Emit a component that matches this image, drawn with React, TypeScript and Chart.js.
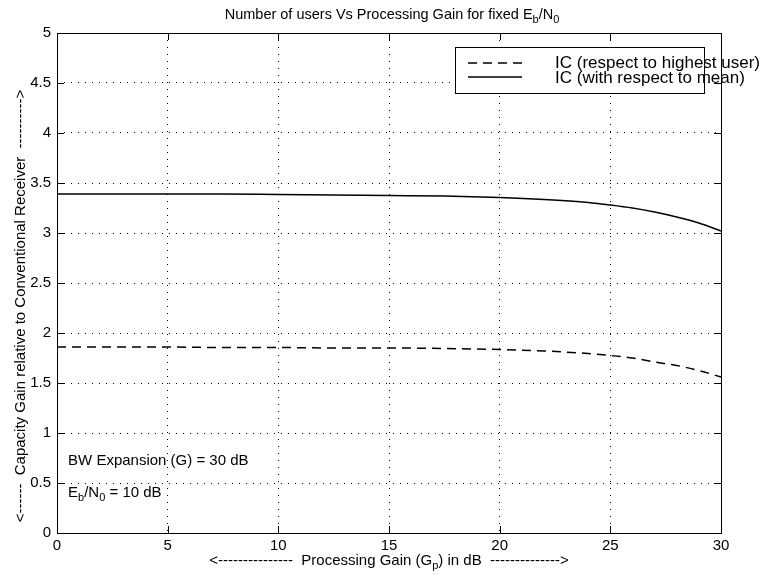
import React, { useEffect, useRef } from "react";
import { Chart, registerables } from "chart.js";
Chart.register(...registerables);

const gainDb = [0, 2.5, 5, 7.5, 10, 12.5, 15, 17.5, 20, 22, 24, 25, 26, 27, 28, 29, 30];
const icMean = [3.39, 3.39, 3.39, 3.39, 3.385, 3.38, 3.375, 3.37, 3.355, 3.335, 3.305, 3.28, 3.25, 3.21, 3.16, 3.1, 3.02];
const icHighest = [1.86, 1.86, 1.86, 1.855, 1.855, 1.85, 1.85, 1.845, 1.835, 1.82, 1.795, 1.775, 1.75, 1.71, 1.675, 1.625, 1.56];
const xTickValues = [0, 5, 10, 15, 20, 25, 30];
const yTickValues = [0, 0.5, 1, 1.5, 2, 2.5, 3, 3.5, 4, 4.5, 5];
const legendLabels = ["IC (respect to highest user)", "IC (with respect to mean)"];

type Seg = { t: string; sub?: boolean };
const titleSegs: Seg[] = [
  { t: "Number of users Vs Processing Gain for fixed E" },
  { t: "b", sub: true },
  { t: "/N" },
  { t: "0", sub: true },
];
const xTitleSegs: Seg[] = [
  { t: "<---------------  Processing Gain (G" },
  { t: "p", sub: true },
  { t: ") in dB  -------------->" },
];
const yTitleSegs: Seg[] = [{ t: "<------  Capacity Gain relative to Conventional Receiver  ---------->" }];
const note1Segs: Seg[] = [{ t: "BW Expansion (G) = 30 dB" }];
const note2Segs: Seg[] = [
  { t: "E" },
  { t: "b", sub: true },
  { t: "/N" },
  { t: "0", sub: true },
  { t: " = 10 dB" },
];

const FONT = "Arial, 'Liberation Sans', Helvetica, sans-serif";

function segWidth(ctx: CanvasRenderingContext2D, segs: Seg[], size: number) {
  let w = 0;
  for (const s of segs) {
    ctx.font = `${s.sub ? Math.round(size * 0.75) : size}px ${FONT}`;
    w += ctx.measureText(s.t).width;
  }
  return w;
}

function drawSegs(ctx: CanvasRenderingContext2D, segs: Seg[], x: number, y: number, size: number, align: "left" | "center") {
  const w = segWidth(ctx, segs, size);
  let cx = align === "center" ? x - w / 2 : x;
  ctx.textBaseline = "middle";
  ctx.textAlign = "left";
  ctx.fillStyle = "#000";
  for (const s of segs) {
    const fs = s.sub ? Math.round(size * 0.75) : size;
    ctx.font = `${fs}px ${FONT}`;
    ctx.fillText(s.t, cx, s.sub ? y + size * 0.35 : y);
    cx += ctx.measureText(s.t).width;
  }
}

const decorPlugin = {
  id: "decor",
  afterDraw(chart: any) {
    const { ctx, chartArea: a, scales } = chart;
    const xs = scales.x;
    const ys = scales.y;
    ctx.save();
    // titles
    drawSegs(ctx, titleSegs, (a.left + a.right) / 2 + 3, 15, 14.5, "center");
    drawSegs(ctx, xTitleSegs, (a.left + a.right) / 2, 561, 15, "center");
    ctx.save();
    ctx.translate(21, 306);
    ctx.rotate(-Math.PI / 2);
    drawSegs(ctx, yTitleSegs, 0, 0, 15, "center");
    ctx.restore();
    // notes
    drawSegs(ctx, note1Segs, xs.getPixelForValue(0.5), ys.getPixelForValue(0.72), 15, "left");
    drawSegs(ctx, note2Segs, xs.getPixelForValue(0.5), ys.getPixelForValue(0.4), 15, "left");

    // legend box
    const bx = 455, by = 47, bw = 249, bh = 46;
    ctx.fillStyle = "#fff";
    ctx.fillRect(bx, by, bw, bh);
    ctx.strokeStyle = "#000";
    ctx.lineWidth = 1;
    ctx.setLineDash([]);
    ctx.strokeRect(bx + 0.5, by + 0.5, bw, bh);
    const rows = [63, 77];
    ctx.lineWidth = 1.5;
    ctx.setLineDash([9, 6]);
    ctx.beginPath();
    ctx.moveTo(468, rows[0]);
    ctx.lineTo(524, rows[0]);
    ctx.stroke();
    ctx.setLineDash([]);
    ctx.beginPath();
    ctx.moveTo(468, rows[1]);
    ctx.lineTo(522, rows[1]);
    ctx.stroke();
    ctx.font = `17px ${FONT}`;
    ctx.fillStyle = "#000";
    ctx.textBaseline = "middle";
    ctx.textAlign = "left";
    ctx.fillText(legendLabels[0], 555, rows[0]);
    ctx.fillText(legendLabels[1], 555, rows[1] + 1);

    // frame
    ctx.lineWidth = 1;
    ctx.strokeStyle = "#000";
    ctx.setLineDash([]);
    ctx.strokeRect(Math.round(a.left) + 0.5, Math.round(a.top) + 0.5, Math.round(a.right - a.left), Math.round(a.bottom - a.top));
    // inner ticks
    ctx.beginPath();
    for (const v of xTickValues) {
      const px = Math.round(xs.getPixelForValue(v)) + 0.5;
      ctx.moveTo(px, a.bottom);
      ctx.lineTo(px, a.bottom - 7);
      ctx.moveTo(px, a.top);
      ctx.lineTo(px, a.top + 7);
    }
    for (const v of yTickValues) {
      const py = Math.round(ys.getPixelForValue(v)) + 0.5;
      ctx.moveTo(a.left, py);
      ctx.lineTo(a.left + 7, py);
      ctx.moveTo(a.right, py);
      ctx.lineTo(a.right - 7, py);
    }
    ctx.stroke();
    ctx.restore();
  },
};

export default function App() {
  const ref = useRef<HTMLCanvasElement | null>(null);
  useEffect(() => {
    if (!ref.current) return;
    const chart = new Chart(ref.current, {
      type: "line",
      data: {
        datasets: [
          {
            label: legendLabels[0],
            data: gainDb.map((x, i) => ({ x, y: icHighest[i] })),
            borderColor: "#000",
            borderWidth: 1.5,
            borderDash: [9, 6],
            pointRadius: 0,
            cubicInterpolationMode: "monotone",
            fill: false,
          },
          {
            label: legendLabels[1],
            data: gainDb.map((x, i) => ({ x, y: icMean[i] })),
            borderColor: "#000",
            borderWidth: 1.5,
            pointRadius: 0,
            cubicInterpolationMode: "monotone",
            fill: false,
          },
        ],
      },
      options: {
        animation: false,
        responsive: false,
        maintainAspectRatio: false,
        layout: { padding: { top: 33, right: 52, left: 0, bottom: 0 } },
        plugins: { legend: { display: false }, title: { display: false }, tooltip: { enabled: false } },
        scales: {
          x: {
            type: "linear",
            min: 0,
            max: 30,
            afterBuildTicks: (s: any) => {
              s.ticks = xTickValues.map((v) => ({ value: v }));
            },
            afterFit: (s: any) => {
              s.height = 45;
            },
            ticks: { color: "#000", font: { size: 15, family: FONT }, padding: 4, maxRotation: 0, callback: (v: any) => String(v) },
            grid: { color: "#000", lineWidth: 1, drawTicks: false },
            border: { display: false, dash: [1, 6] },
          },
          y: {
            type: "linear",
            min: 0,
            max: 5,
            afterBuildTicks: (s: any) => {
              s.ticks = yTickValues.map((v) => ({ value: v }));
            },
            afterFit: (s: any) => {
              s.width = 57;
            },
            ticks: { color: "#000", font: { size: 15, family: FONT }, padding: 6, callback: (v: any) => String(v) },
            grid: { color: "#000", lineWidth: 1, drawTicks: false },
            border: { display: false, dash: [1, 6] },
          },
        },
      },
      plugins: [decorPlugin],
    } as any);
    return () => chart.destroy();
  }, []);
  return (
    <div style={{ position: "fixed", left: 0, top: 0, width: 773, height: 578, background: "#fff" }}>
      <canvas ref={ref} width={773} height={578} style={{ width: 773, height: 578 }} />
    </div>
  );
}
